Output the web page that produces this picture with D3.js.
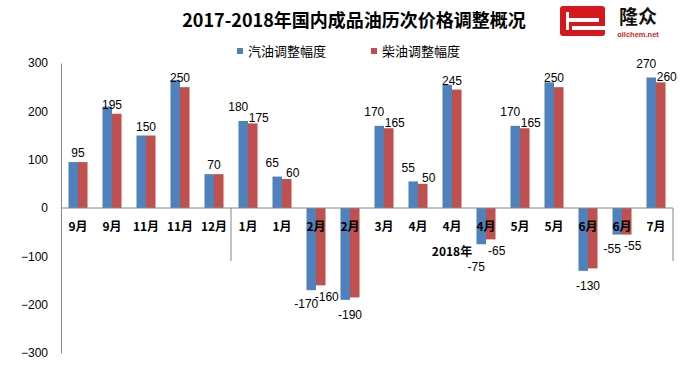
<!DOCTYPE html>
<html><head><meta charset="utf-8">
<script src="https://cdn.jsdelivr.net/npm/d3@7"></script>
<style>body{margin:0;background:#fff}svg{display:block}</style>
</head><body>
<svg id="c" width="691" height="369"></svg>
<script>
const title = "2017-2018年国内成品油历次价格调整概况";
const categories = ["9月","9月","11月","11月","12月","1月","1月","2月","2月","3月","4月","4月","4月","5月","5月","6月","6月","7月"];
const seriesNames = ["汽油调整幅度","柴油调整幅度"];
const gasoline = [95,210,150,265,70,180,65,-170,-190,170,55,255,-75,170,260,-130,-55,270];
const diesel   = [95,195,150,250,70,175,60,-160,-185,165,50,245,-65,165,250,-125,-55,260];
const gasLabels    = [95,null,150,null,70,180,65,-170,-190,170,55,null,-75,170,null,-130,-55,270];
const dieselLabels = [null,195,null,250,null,175,60,-160,null,165,50,245,-65,165,250,null,-55,260];
const yTicks = [-300,-200,-100,0,100,200,300];
const groups = [{name:"", from:0, to:4},{name:"2018年", from:5, to:17}];
const colors = ["#4F81BD","#C0504D"];

const svg = d3.select("#c");
const cjk = "'Noto Sans CJK SC','Microsoft YaHei',sans-serif";
const num = "'Liberation Sans',Arial,sans-serif";

const x = d3.scaleBand().domain(d3.range(categories.length)).range([61,673]).paddingInner(0.44).paddingOuter(0.22);
const xs = d3.scaleBand().domain([0,1]).range([0,x.bandwidth()]);
const y = d3.scaleLinear().domain([-300,300]).range([353,63]);
const step = x.step();

// title
svg.append("text").attr("x",354).attr("y",27).attr("text-anchor","middle")
  .attr("font-family",cjk).attr("font-weight","bold").attr("font-size",18).attr("fill","#000").text(title);

// logo
const logo = svg.append("g");
logo.append("rect").attr("x",560).attr("y",6).attr("width",45).attr("height",30).attr("rx",3).attr("fill","#D7171E");
logo.append("rect").attr("x",569).attr("y",18).attr("width",30).attr("height",4).attr("fill","#fff");
logo.append("rect").attr("x",572).attr("y",26).attr("width",33).attr("height",4).attr("fill","#fff");
logo.append("rect").attr("x",566).attr("y",12).attr("width",3).attr("height",18).attr("fill","#fff");
const brand = logo.append("text").attr("x",638).attr("y",24).attr("text-anchor","middle").attr("font-family",cjk)
  .attr("font-weight","bold").attr("font-size",19).attr("fill","#111").text("隆众");
const bb = brand.node().getBBox();
const site = logo.append("text").attr("x",638).attr("y",0).attr("text-anchor","middle").attr("font-family",num)
  .attr("font-weight","bold").attr("font-size",7.5).attr("fill","#D7171E").text("oilchem.net");
const sb = site.node().getBBox();
site.attr("y", bb.y + bb.height - sb.y + 0.5);

// legend
const legX = [237,371];
seriesNames.forEach((n,i)=>{
  svg.append("rect").attr("x",legX[i]).attr("y",48).attr("width",6).attr("height",6).attr("fill",colors[i]);
  svg.append("text").attr("x",legX[i]+11).attr("y",56).attr("font-family",cjk).attr("font-size",13).attr("fill","#000").text(n);
});

// y axis
const yAxis = svg.append("g").attr("transform","translate(61,0)")
  .call(d3.axisLeft(y).tickValues(yTicks).tickSize(0).tickPadding(13).tickFormat(d3.format("d")));
yAxis.select(".domain").attr("stroke","#868686");
yAxis.selectAll("text").attr("font-family",num).attr("font-size",12).attr("fill","#000");

// bars
const series = [gasoline, diesel];
series.forEach((vals,si)=>{
  svg.append("g").selectAll("rect").data(vals).join("rect")
    .attr("x",(d,i)=>x(i)+xs(si))
    .attr("width",xs.bandwidth())
    .attr("y",d=>y(Math.max(0,d)))
    .attr("height",d=>Math.abs(y(d)-y(0)))
    .attr("fill",colors[si]);
});

// x axis line
svg.append("line").attr("x1",61).attr("x2",673).attr("y1",y(0)).attr("y2",y(0)).attr("stroke","#868686");
// group dividers
const groupBoxes = [];
groups.forEach(g=>{
  const xr = x(g.to)+x.bandwidth()+step*0.22;
  svg.append("line").attr("x1",xr).attr("x2",xr).attr("y1",y(0)).attr("y2",y(0)+53).attr("stroke","#868686");
  if(g.name){
    const xl = x(g.from)-step*0.22;
    const t = svg.append("text").attr("x",(xl+xr)/2).attr("y",256).attr("text-anchor","middle")
      .attr("font-family",cjk).attr("font-weight","bold").attr("font-size",12).attr("fill","#000").text(g.name);
    groupBoxes.push(t.node().getBBox());
  }
});
// category labels
svg.append("g").selectAll("text").data(categories).join("text")
  .attr("x",(d,i)=>x(i)+x.bandwidth()/2).attr("y",231).attr("text-anchor","middle")
  .attr("font-family",cjk).attr("font-weight","bold").attr("font-size",12).attr("fill","#000").text(d=>d);

// data labels
const lab = svg.append("g").attr("font-family",num).attr("font-size",12).attr("fill","#000").attr("text-anchor","middle");
function hits(b){
  return groupBoxes.some(g=> b.x < g.x+g.width && b.x+b.width > g.x && b.y < g.y+g.height && b.y+b.height > g.y);
}
categories.forEach((c,i)=>{
  const gl = gasLabels[i], dl = dieselLabels[i];
  const both = gl!==null && dl!==null;
  [[gl,0,gasoline[i]],[dl,1,diesel[i]]].forEach(([l,si,v])=>{
    if(l===null) return;
    let cx, cy;
    if(both){
      cx = x(i)+xs(si)+xs.bandwidth()/2 + (si===0?-5:6);
      if(v>=0) cy = y(v) - (si===0?14:6);
      else cy = y(v) + (si===0?14:11);
    } else {
      cx = x(i)+x.bandwidth()/2;
      cy = v>=0 ? y(v)-9 : y(v)+15;
    }
    const t = lab.append("text").attr("x",cx).attr("y",cy).attr("dy","0.36em").text(l);
    let guard = 0;
    while(v<0 && hits(t.node().getBBox()) && guard<30){ cy += 1; t.attr("y",cy); guard++; }
  });
});
</script>
</body></html>
